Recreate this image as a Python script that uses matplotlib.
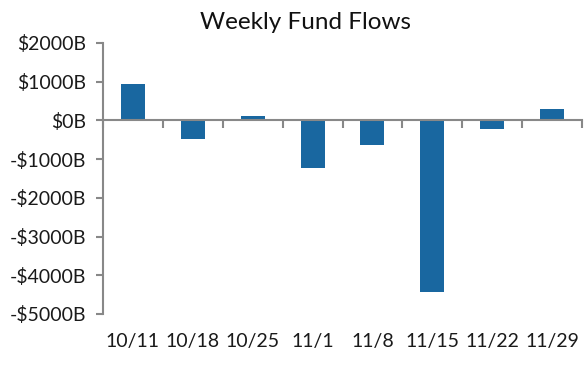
import numpy as np
import matplotlib.pyplot as plt
from matplotlib.ticker import FuncFormatter

# Weekly flows, $B
weeks = ["10/11", "10/18", "10/25", "11/1", "11/8", "11/15", "11/22", "11/29"]
flows = [950, -470, 120, -1220, -630, -4440, -215, 300]
y_ticks = [2000, 1000, 0, -1000, -2000, -3000, -4000, -5000]

plt.rcParams['font.family'] = ['Lato', 'DejaVu Sans']
grey = "#888888"
ink = "#1a1a1a"

fig = plt.figure(figsize=(5.88, 3.76), dpi=100)
ax = fig.add_axes([0.175, 0.165, 0.815, 0.721])

x = np.arange(len(weeks))
ax.bar(x, flows, width=0.4, color="#1967a0", zorder=1)

ax.set_xlim(-0.5, len(weeks) - 0.5)
ax.set_ylim(-5000, 2000)
ax.set_yticks(y_ticks)
ax.yaxis.set_major_formatter(FuncFormatter(
    lambda v, _: f"-${abs(v):.0f}B" if v < 0 else f"${v:.0f}B"))

# category axis line sits on zero, ticks at category boundaries
ax.spines['bottom'].set_position(('data', 0))
ax.spines['top'].set_visible(False)
ax.spines['right'].set_visible(False)
for s in ('left', 'bottom'):
    ax.spines[s].set_color(grey)
    ax.spines[s].set_linewidth(1.5)
    ax.spines[s].set_zorder(3)
ax.set_xticks(np.arange(-0.5, len(weeks)))
ax.set_xticklabels([])
ax.tick_params(axis='x', direction='out', length=6, width=1.5, color=grey)
ax.tick_params(axis='y', direction='out', length=5, width=1.5, color=grey,
               labelsize=14, labelcolor=ink, pad=7)

# week labels below the plot, under each bar
for i, w in enumerate(weeks):
    ax.text(x[i], -0.103, w, transform=ax.get_xaxis_transform(),
            ha='center', va='center', fontsize=14, color=ink)

fig.suptitle("Weekly Fund Flows", x=0.519, y=0.939, va='center',
             fontsize=17.5, color="#111111")

fig.savefig("out.png", dpi=100)
